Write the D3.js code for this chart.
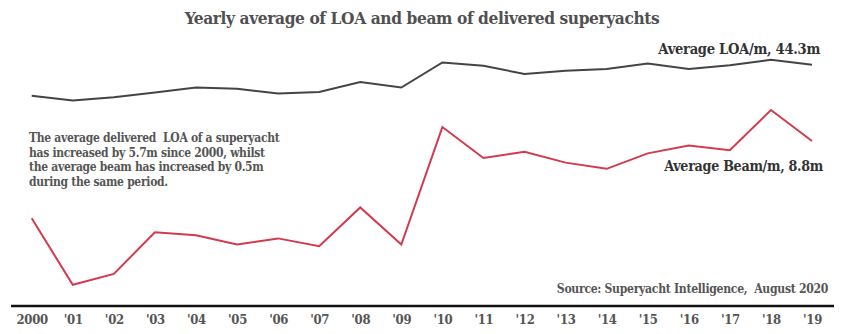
<!DOCTYPE html>
<html>
<head>
<meta charset="utf-8">
<script src="https://cdn.jsdelivr.net/npm/d3@7"></script>
<style>
  html, body { margin: 0; padding: 0; background: #fff; }
  svg { display: block; }
  text { font-family: "DejaVu Serif", serif; font-stretch: condensed; font-weight: bold; white-space: pre; }
</style>
</head>
<body>
<svg id="chart" width="844" height="334"></svg>
<script>
// Yearly averages of delivered superyachts
const years = ["2000", "'01", "'02", "'03", "'04", "'05", "'06", "'07", "'08", "'09",
               "'10", "'11", "'12", "'13", "'14", "'15", "'16", "'17", "'18", "'19"];
const loa = [38.6, 37.7, 38.3, 39.2, 40.1, 39.9, 39.0, 39.3, 41.1, 40.1,
             44.7, 44.1, 42.6, 43.2, 43.5, 44.5, 43.5, 44.2, 45.2, 44.3];
const beam = [8.30, 7.87, 7.94, 8.21, 8.19, 8.13, 8.17, 8.12, 8.37, 8.13,
              8.89, 8.69, 8.73, 8.66, 8.62, 8.72, 8.77, 8.74, 9.00, 8.80];

const titleText = "Yearly average of LOA and beam of delivered superyachts";
const loaLabel = "Average LOA/m, 44.3m";
const beamLabel = "Average Beam/m, 8.8m";
const noteLines = [
  "The average delivered  LOA of a superyacht",
  "has increased by 5.7m since 2000, whilst",
  "the average beam has increased by 0.5m",
  "during the same period."
];
const sourceText = "Source: Superyacht Intelligence,  August 2020";

const svg = d3.select("#chart");

const x = d3.scalePoint().domain(years).range([31.7, 812]);
// Each series sits on its own (unlabelled) vertical scale
const yLoa = d3.scaleLinear().domain([35, 47]).range([115.3, 50.0]);
const yBeam = d3.scaleLinear().domain([7.8, 9.1]).range([295.6, 94.6]);

// Title
svg.append("text")
  .attr("x", 422).attr("y", 24)
  .attr("text-anchor", "middle")
  .attr("font-size", 17.2)
  .attr("letter-spacing", -0.4)
  .attr("fill", "#505050")
  .text(titleText);

// Lines
const lineLoa = d3.line().x((d, i) => x(years[i])).y(d => yLoa(d));
const lineBeam = d3.line().x((d, i) => x(years[i])).y(d => yBeam(d));

svg.append("path")
  .datum(loa)
  .attr("d", lineLoa)
  .attr("fill", "none")
  .attr("stroke", "#444")
  .attr("stroke-width", 2)
  .attr("stroke-linejoin", "miter");

svg.append("path")
  .datum(beam)
  .attr("d", lineBeam)
  .attr("fill", "none")
  .attr("stroke", "#d33a4e")
  .attr("stroke-width", 2)
  .attr("stroke-linejoin", "miter");

// Series labels
svg.append("text")
  .attr("x", 820).attr("y", 53.5)
  .attr("text-anchor", "end")
  .attr("font-size", 14.6)
  .attr("letter-spacing", -0.3)
  .attr("fill", "#333")
  .text(loaLabel);

svg.append("text")
  .attr("x", 823).attr("y", 171)
  .attr("text-anchor", "end")
  .attr("font-size", 14.2)
  .attr("letter-spacing", -0.3)
  .attr("fill", "#333")
  .text(beamLabel);

// Annotation
const note = svg.append("text")
  .attr("x", 29).attr("y", 142)
  .attr("font-size", 12)
  .attr("letter-spacing", -0.3)
  .attr("fill", "#555");
noteLines.forEach((t, i) => {
  note.append("tspan").attr("x", 29).attr("dy", i === 0 ? 0 : 14.6).text(t);
});

// Source
svg.append("text")
  .attr("x", 828).attr("y", 293)
  .attr("text-anchor", "end")
  .attr("font-size", 12.1)
  .attr("letter-spacing", -0.3)
  .attr("fill", "#555")
  .text(sourceText);

// X axis
const axis = svg.append("g")
  .attr("transform", "translate(0,306)")
  .call(d3.axisBottom(x).tickSize(0).tickPadding(9));
axis.select(".domain").remove();
axis.append("line")
  .attr("x1", 11).attr("x2", 834)
  .attr("y1", 0).attr("y2", 0)
  .attr("stroke", "#111")
  .attr("stroke-width", 2.5);
axis.selectAll(".tick text")
  .attr("font-family", "\"DejaVu Serif\", serif")
  .attr("font-weight", "bold")
  .attr("font-size", 13)
  .attr("letter-spacing", -0.3)
  .attr("fill", "#555");
</script>
</body>
</html>
